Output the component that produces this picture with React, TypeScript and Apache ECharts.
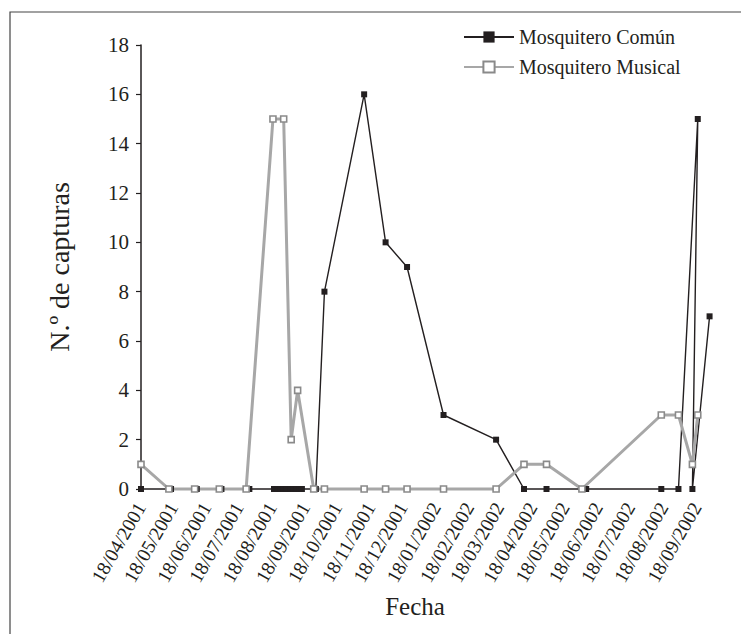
import React, { useEffect, useRef } from "react";
import * as echarts from "echarts";

const seriesNames = ["Mosquitero Común", "Mosquitero Musical"];

const comunDates = [
  "2001-04-18", "2001-05-16", "2001-06-09", "2001-07-02", "2001-07-28",
  "2001-08-20", "2001-08-23", "2001-08-26", "2001-08-29", "2001-09-01",
  "2001-09-04", "2001-09-07", "2001-09-10", "2001-09-13", "2001-09-15",
  "2001-09-28", "2001-10-06", "2001-11-12", "2001-12-02", "2001-12-22",
  "2002-01-25", "2002-03-15", "2002-04-10", "2002-05-01", "2002-06-07",
  "2002-08-16", "2002-09-01", "2002-09-19", "2002-09-14", "2002-09-30",
];
const comunValues = [
  0, 0, 0, 0, 0,
  0, 0, 0, 0, 0,
  0, 0, 0, 0, 0,
  0, 8, 16, 10, 9,
  3, 2, 0, 0, 0,
  0, 0, 15, 0, 7,
];

const musicalDates = [
  "2001-04-18", "2001-05-14", "2001-06-07", "2001-06-30", "2001-07-25",
  "2001-08-19", "2001-08-29", "2001-09-05", "2001-09-11", "2001-09-26",
  "2001-10-06", "2001-11-12", "2001-12-02", "2001-12-22", "2002-01-25",
  "2002-03-15", "2002-04-10", "2002-05-01", "2002-06-03", "2002-08-16",
  "2002-09-01", "2002-09-14", "2002-09-19",
];
const musicalValues = [
  1, 0, 0, 0, 0,
  15, 15, 2, 4, 0,
  0, 0, 0, 0, 0,
  0, 1, 1, 0, 3,
  3, 1, 3,
];

const xTickLabels = [
  "18/04/2001", "18/05/2001", "18/06/2001", "18/07/2001", "18/08/2001",
  "18/09/2001", "18/10/2001", "18/11/2001", "18/12/2001", "18/01/2002",
  "18/02/2002", "18/03/2002", "18/04/2002", "18/05/2002", "18/06/2002",
  "18/07/2002", "18/08/2002", "18/09/2002",
];
const yTickLabels = ["0", "2", "4", "6", "8", "10", "12", "14", "16", "18"];

const xAxisName = "Fecha";
const yAxisName = "N.º de capturas";

function parseDate(s: string): number {
  const [y, m, d] = s.split("-").map(Number);
  return Date.UTC(y, m - 1, d);
}
function parseLabel(s: string): number {
  const [d, m, y] = s.split("/").map(Number);
  return Date.UTC(y, m - 1, d);
}
function pad(n: number) {
  return n < 10 ? "0" + n : "" + n;
}

const FONT = "'Liberation Serif', 'DejaVu Serif', serif";
const INK = "#231f20";
const GREY = "#a7a7a7";

export default function App() {
  const ref = useRef<HTMLDivElement>(null);
  useEffect(() => {
    document.body.style.margin = "0";
    if (!ref.current) return;
    const chart = echarts.init(ref.current, undefined, { renderer: "svg" });
    const tickValues = xTickLabels.map(parseLabel);
    const option: any = {
      animation: false,
      backgroundColor: "#ffffff",
      textStyle: { fontFamily: FONT, color: INK },
      graphic: [
        {
          type: "rect",
          shape: { x: 10, y: 12, width: 745, height: 640 },
          style: { fill: "none", stroke: "#444", lineWidth: 1.2 },
          silent: true,
        },
        {
          type: "text",
          x: 415,
          y: 606,
          silent: true,
          style: {
            text: xAxisName,
            fontFamily: FONT,
            fontSize: 25,
            fill: INK,
            align: "center",
            verticalAlign: "middle",
          },
        },
      ],
      legend: {
        orient: "vertical",
        left: 458,
        top: 22,
        itemWidth: 50,
        itemHeight: 14,
        itemGap: 10,
        textStyle: { fontFamily: FONT, fontSize: 20, color: INK },
        data: seriesNames,
      },
      grid: { left: 141, right: 20.7, top: 45, bottom: 145 },
      xAxis: {
        type: "value",
        min: tickValues[0],
        max: Date.UTC(2002, 9, 10),
        axisLine: { show: false },
        axisTick: { show: false },
        splitLine: { show: false },
        axisLabel: {
          customValues: tickValues,
          rotate: 60,
          margin: 15,
          fontFamily: FONT,
          fontSize: 19.5,
          color: INK,
          hideOverlap: false,
          showMinLabel: true,
          showMaxLabel: true,
          formatter: (v: number) => {
            const d = new Date(v);
            return pad(d.getUTCDate()) + "/" + pad(d.getUTCMonth() + 1) + "/" + d.getUTCFullYear();
          },
        },
      },
      yAxis: {
        type: "value",
        min: 0,
        max: 18,
        interval: 2,
        name: yAxisName,
        nameLocation: "middle",
        nameGap: 68,
        nameTextStyle: { fontFamily: FONT, fontSize: 28, color: INK },
        axisLine: { show: true, lineStyle: { color: INK, width: 1.5 } },
        axisTick: { show: true, length: 5, lineStyle: { color: INK, width: 1.2 } },
        splitLine: { show: false },
        axisLabel: {
          margin: 12,
          fontFamily: FONT,
          fontSize: 21,
          color: INK,
          formatter: (v: number) => yTickLabels[Math.round(v / 2)] ?? String(v),
        },
      },
      series: [
        {
          name: seriesNames[0],
          type: "line",
          data: comunDates.map((d, i) => [parseDate(d), comunValues[i]]),
          symbol: "rect",
          symbolSize: 6,
          showAllSymbol: true,
          clip: false,
          lineStyle: { color: INK, width: 1.4 },
          itemStyle: { color: INK, borderColor: INK, borderWidth: 0 },
          emphasis: { disabled: true },
        },
        {
          name: seriesNames[1],
          type: "line",
          data: musicalDates.map((d, i) => [parseDate(d), musicalValues[i]]),
          symbol: "rect",
          symbolSize: 6,
          showAllSymbol: true,
          clip: false,
          lineStyle: { color: GREY, width: 3 },
          itemStyle: { color: "#ffffff", borderColor: "#8a8a8a", borderWidth: 1.6 },
          emphasis: { disabled: true },
        },
      ],
    };
    chart.setOption(option);
    return () => chart.dispose();
  }, []);
  return <div ref={ref} style={{ width: 741, height: 634 }} />;
}
